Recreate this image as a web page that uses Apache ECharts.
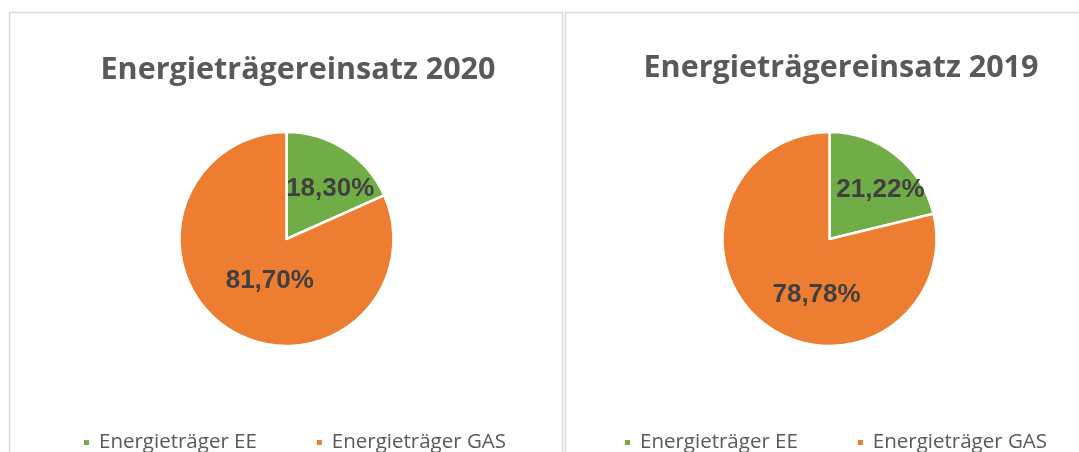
<!DOCTYPE html>
<html>
<head>
<meta charset="utf-8">
<script src="https://cdn.jsdelivr.net/npm/echarts@6/dist/echarts.min.js"></script>
<style>
  html, body { margin: 0; padding: 0; background: #fff; }
  #chart { width: 1079px; height: 452px; }
</style>
</head>
<body>
<div id="chart"></div>
<script>
// Daten
const categories = ['Energieträger EE', 'Energieträger GAS']
const years = ['2020', '2019']
const values2020 = [18.30, 81.70]
const values2019 = [21.22, 78.78]

const colors = ['#70AD47', '#ED7D31']

// Label-Verschiebung wie im Original (Excel "beste Anpassung")
const labelShift = {
  '2020': [[13, -3], [14, -6]],
  '2019': [[16, -5], [22, 11]],
}

const chartDom = document.getElementById('chart')
const myChart = echarts.init(chartDom, null, { renderer: 'canvas' })

const makeData = (vals, year) =>
  vals.map((v, i) => ({
    name: categories[i],
    value: v,
    itemStyle: { color: colors[i] },
    label: { offset: labelShift[year][i] },
  }))

const pieSeries = (vals, year, cx) => ({
  name: 'Energieträgereinsatz ' + year,
  type: 'pie',
  center: [cx, 239],
  radius: [0, 107],
  startAngle: 90,
  clockwise: true,
  animation: false,
  itemStyle: { borderColor: '#ffffff', borderWidth: 2.5 },
  label: {
    show: true,
    position: 'inside',
    formatter: (p) => p.value.toFixed(2).replace('.', ',') + '%',
    fontFamily: 'Liberation Sans, Arial, sans-serif',
    fontWeight: 'bold',
    fontSize: 26,
    color: '#404040',
  },
  labelLine: { show: false },
  emphasis: { disabled: true },
  data: makeData(vals, year),
})

const legendBase = {
  orient: 'horizontal',
  top: 432,
  padding: 0,
  icon: 'rect',
  itemWidth: 7,
  itemHeight: 7,
  itemGap: 58,
  selectedMode: false,
  textStyle: {
    fontFamily: 'Open Sans, sans-serif',
    fontSize: 20.5,
    color: '#595959',
    padding: [0, 0, 0, 4],
  },
  data: categories,
}

const titleStyle = {
  fontFamily: 'Open Sans, sans-serif',
  fontWeight: 'bold',
  fontSize: 30.5,
  color: '#595959',
}

const option = {
  backgroundColor: '#ffffff',
  animation: false,
  graphic: [
    {
      type: 'rect',
      shape: { x: 9.5, y: 12.5, width: 553, height: 460 },
      style: { fill: 'none', stroke: '#d9d9d9', lineWidth: 1.5 },
      silent: true,
    },
    {
      type: 'rect',
      shape: { x: 565.5, y: 12.5, width: 540, height: 460 },
      style: { fill: 'none', stroke: '#d9d9d9', lineWidth: 1.5 },
      silent: true,
    },
  ],
  title: [
    { text: 'Energieträgereinsatz ' + years[0], left: 293, top: 50, textAlign: 'center', textStyle: titleStyle },
    { text: 'Energieträgereinsatz ' + years[1], left: 836, top: 48, textAlign: 'center', textStyle: titleStyle },
  ],
  legend: [
    Object.assign({}, legendBase, { left: 82 }),
    Object.assign({}, legendBase, { left: 623 }),
  ],
  series: [
    pieSeries(values2020, years[0], 286.5),
    pieSeries(values2019, years[1], 829.5),
  ],
}

myChart.setOption(option)
</script>
</body>
</html>
